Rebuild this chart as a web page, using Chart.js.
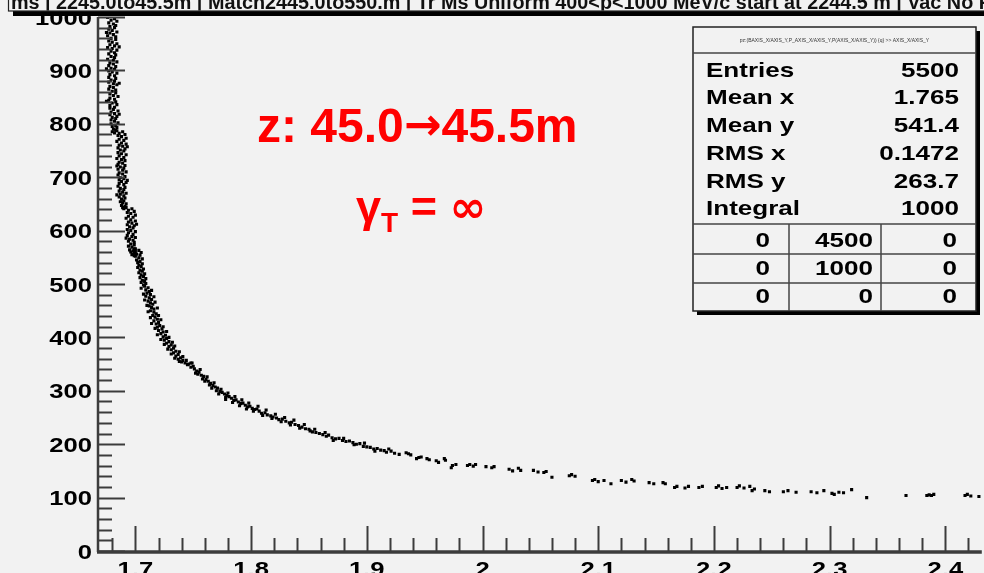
<!DOCTYPE html>
<html>
<head>
<meta charset="utf-8">
<script src="https://cdn.jsdelivr.net/npm/chart.js@4.4.0/dist/chart.umd.min.js"></script>
<style>
  html, body { margin: 0; padding: 0; background: #f2f2f2; }
  #wrap { width: 984px; height: 573px; }
  #c { filter: blur(0.45px); }
</style>
</head>
<body>
<div id="wrap"><canvas id="c" width="984" height="573"></canvas></div>
<script>
// Axis ticks
const xTickValues = [1.7, 1.8, 1.9, 2.0, 2.1, 2.2, 2.3, 2.4];
const xTickLabels = ['1.7', '1.8', '1.9', '2', '2.1', '2.2', '2.3', '2.4'];
const yTickValues = [0, 100, 200, 300, 400, 500, 600, 700, 800, 900, 1000];

// Scatter points [x, y], grouped along the curve
const steepTop = [
  [1.676,999],[1.682,997],[1.679,994],[1.684,992],[1.677,989],[1.681,987],[1.683,984],[1.678,982],[1.682,980],[1.677,977],
  [1.680,975],[1.684,972],[1.678,970],[1.681,967],[1.676,965],[1.683,963],[1.679,960],[1.683,958],[1.677,955],[1.680,953],
  [1.684,950],[1.678,948],[1.682,946],[1.676,943],[1.680,941],[1.684,938],[1.679,936],[1.682,933],[1.677,931],[1.683,929],
  [1.679,926],[1.682,924],[1.676,921],[1.681,919],[1.684,916],[1.678,914],[1.681,912],[1.677,909],[1.683,907],[1.679,904],
  [1.682,902],[1.677,899],[1.680,897],[1.684,895],[1.678,892],[1.682,890],[1.677,887],[1.683,885],[1.679,882],[1.682,880],
  [1.677,878],[1.681,875],[1.684,873],[1.678,870],[1.681,868],[1.677,865],[1.683,863],[1.680,861],[1.683,858],[1.678,856],
  [1.681,853],[1.685,851],[1.678,848],[1.682,846],[1.677,844],[1.683,841],[1.680,839],[1.684,836],[1.678,834],[1.682,831],
  [1.678,829],[1.681,827],[1.685,824],[1.679,822],[1.682,819],[1.678,817],[1.684,814],[1.680,812],[1.683,810],[1.679,807],
  [1.682,805],[1.685,802],[1.679,800],[1.683,797],[1.680,795],[1.684,793],[1.681,790],[1.683,788],[1.680,785],[1.682,783],
  [1.675,971],[1.686,944],[1.675,903],[1.686,876],[1.675,842],[1.686,818]
];
const steepUpper = [
  [1.684,787],[1.689,785],[1.686,782],[1.691,780],[1.685,778],[1.688,776],[1.692,773],[1.686,771],[1.690,769],[1.684,767],
  [1.688,764],[1.692,762],[1.686,760],[1.689,758],[1.685,755],[1.691,753],[1.687,751],[1.690,749],[1.685,746],[1.688,744],
  [1.692,742],[1.686,740],[1.690,737],[1.684,735],[1.688,733],[1.691,731],[1.686,728],[1.689,726],[1.685,724],[1.691,722],
  [1.687,719],[1.690,717],[1.685,715],[1.689,713],[1.692,710],[1.686,708],[1.689,706],[1.685,704],[1.691,701],[1.687,699],
  [1.690,697],[1.686,695],[1.688,692],[1.692,690],[1.686,688],[1.690,686],[1.685,683],[1.691,681],[1.687,679],[1.690,677],
  [1.686,674],[1.689,672],[1.692,670],[1.687,668],[1.690,665],[1.686,663],[1.691,661],[1.688,659],[1.690,656],[1.687,654],
  [1.689,652],[1.692,650],[1.688,647],[1.691,645],[1.689,643],[1.690,641],
  [1.693,757],[1.684,721],[1.693,694],[1.684,667]
];
const steepMid = [
  [1.692,643],[1.697,641],[1.694,638],[1.699,636],[1.693,634],[1.696,632],[1.700,629],[1.694,627],[1.698,625],[1.692,623],
  [1.696,620],[1.700,618],[1.694,616],[1.697,614],[1.693,611],[1.699,609],[1.695,607],[1.698,605],[1.693,602],[1.696,600],
  [1.700,598],[1.694,596],[1.698,593],[1.693,591],[1.697,589],[1.700,587],[1.695,584],[1.698,582],[1.694,580],[1.699,578],
  [1.696,575],[1.699,573],[1.694,571],[1.697,569],[1.700,566],[1.695,564],[1.698,562],[1.696,560],[1.699,557],[1.697,555],
  [1.699,553],[1.701,612],[1.692,586]
];
const steepLow = [
  [1.699,566],[1.703,563],[1.700,561],[1.705,559],[1.701,556],[1.704,554],[1.700,552],[1.703,549],[1.706,547],[1.701,545],
  [1.704,542],[1.702,540],[1.706,538],[1.703,535],[1.705,533],[1.702,531],[1.707,528],[1.704,526],[1.706,524],[1.703,521],
  [1.708,519],[1.705,517],[1.707,514],[1.704,512],[1.709,510],[1.706,507],[1.708,505],[1.705,503],[1.709,501],[1.707,498]
];
const knee = [
  [1.708,496],[1.711,493],[1.709,489],[1.712,486],[1.710,483],[1.713,480],[1.709,477],[1.712,474],[1.714,471],[1.711,468],
  [1.713,465],[1.715,462],[1.712,459],[1.714,456],[1.716,453],[1.713,450],[1.716,447],[1.718,444],[1.715,441],[1.717,438],
  [1.719,434],[1.716,431],[1.720,428],[1.718,425],[1.721,422],[1.719,419],[1.723,416],[1.720,413],[1.724,410],[1.722,407],
  [1.726,404],[1.724,401],[1.727,398],[1.725,395],[1.729,392],[1.727,389],[1.731,386],[1.729,383],[1.733,380],[1.731,377],
  [1.735,374],[1.733,371],[1.737,368],[1.735,365],[1.739,362],[1.737,359],[1.741,357],[1.740,354],[1.743,352],[1.745,349],
  [1.705,492],[1.714,488],[1.707,481],[1.716,476],[1.708,470],[1.717,466],[1.710,460],[1.719,455],[1.711,448],[1.720,441],
  [1.713,437],[1.722,433],[1.714,426],[1.724,420],[1.717,417],[1.727,411],[1.719,405],[1.729,400],[1.722,396],[1.732,391],
  [1.725,387],[1.734,384],[1.728,378],[1.738,373],[1.731,369],[1.741,364],[1.734,361],[1.744,357],[1.738,355],[1.748,352]
];
const bend = [
  [1.746,350],[1.748,344],[1.750,346],[1.751,341],[1.753,337],[1.755,335],[1.754,331],[1.757,329],[1.759,327],[1.758,322],
  [1.761,321],[1.763,318],[1.765,314],[1.764,311],[1.767,310],[1.769,307],[1.771,305],[1.770,300],[1.773,299],[1.775,297],
  [1.777,294],[1.779,291],[1.778,288],[1.781,289],[1.783,286],[1.785,282],[1.787,283],[1.789,279],[1.791,276],[1.793,277],
  [1.795,273],[1.797,270],[1.799,271],[1.801,267],[1.803,265],[1.805,266],[1.807,262],[1.809,258],[1.812,259],[1.814,255],
  [1.817,253],[1.819,251],[1.822,249],[1.824,246],[1.827,247],[1.830,243],[1.833,240],[1.835,241],[1.838,237],[1.841,235],
  [1.844,232],[1.847,229],[1.850,228],[1.853,223],[1.856,222],
  [1.749,352],[1.752,333],[1.756,340],[1.760,318],[1.762,326],[1.766,305],[1.768,315],[1.772,294],[1.774,303],[1.778,284],
  [1.780,296],[1.784,278],[1.786,289],[1.790,272],[1.792,283],[1.796,266],[1.798,277],[1.802,262],[1.806,271],[1.810,254],
  [1.813,264],[1.818,248],[1.821,256],[1.826,242],[1.829,250],[1.834,236],[1.837,245],[1.842,230],[1.846,237],[1.851,225],
  [1.855,228]
];
const tail = [
  [1.859,220],[1.862,218],[1.865,215],[1.867,217],[1.870,212],[1.873,210],[1.876,211],[1.879,207],[1.882,205],[1.885,206],
  [1.888,203],[1.891,200],[1.894,201],[1.897,196],[1.900,195],[1.903,194],[1.906,191],[1.909,192],[1.912,189],[1.915,188],
  [1.917,185],[1.921,187],[1.924,183],[1.928,181],[1.934,184],[1.936,182],[1.943,173],[1.945,175],[1.952,173],[1.954,171],
  [1.960,169],[1.967,173],[1.968,170],[1.973,156],[1.974,160],[1.987,160],[1.989,162],[1.994,162],[2.008,156],[2.010,158],
  [2.023,153],[2.031,155],[2.033,151],[2.044,151],[2.053,147],[2.055,149],[2.060,138],[2.075,141],[2.077,143],[2.095,132],
  [2.097,134],[2.105,132],[2.111,126],[2.120,132],[2.129,134],[2.131,131],[2.144,128],[2.156,128],[2.158,126],[2.166,119],
  [2.168,121],[2.178,121],[2.187,119],[2.202,119],[2.204,122],[2.211,119],[2.220,119],[2.222,122],[2.231,121],[2.233,113],
  [2.235,116],[2.244,113],[2.260,111],[2.271,110],[2.284,111],[2.295,113],[2.302,108],[2.304,106],[2.308,110],[2.319,115],
  [2.332,100],[2.366,104],[2.384,104],[2.386,105],[2.388,104],[2.417,104],[2.419,106],[2.429,102],
  [1.864,222],[1.871,207],[1.880,211],[1.889,199],[1.898,202],[1.907,187],[1.919,191],[1.938,180],[1.947,176],[1.962,166],
  [1.977,162],[1.992,159],[2.003,158],[2.026,150],[2.048,148],[2.080,140],[2.100,130],[2.124,129],[2.148,126],[2.175,118],
  [2.190,121],[2.207,117],[2.226,118],[2.248,111],[2.264,113],[2.289,109],[2.312,109],[2.390,106],[2.422,103]
];

// Statistics box contents
const statsTitle = 'pz:(BAXIS_X/AXIS_Y,P_AXIS_X/AXIS_Y,P(AXIS_X/AXIS_Y)) {q} >> AXIS_X/AXIS_Y';
const statNames = ['Entries', 'Mean x', 'Mean y', 'RMS x', 'RMS y', 'Integral'];
const statValues = ['5500', '1.765', '541.4', '0.1472', '263.7', '1000'];
const overflowGrid = [['0', '4500', '0'], ['0', '1000', '0'], ['0', '0', '0']];

const headerText = 'ms | 2245.0to45.5m | Match2445.0to550.m | Tr Ms Uniform 400<p<1000 MeV/c start at 2244.5 m | Vac No R';

const BG = '#f2f2f2';
const AXIS = '#3c3c3c';
const FONT = '"Liberation Sans", Arial, Helvetica, sans-serif';
const SYM = '"DejaVu Sans", sans-serif';

const points = [...steepTop, ...steepUpper, ...steepMid, ...steepLow, ...knee, ...bend, ...tail]
  .map(([x, y]) => ({ x, y }));

// Text drawn with ROOT's wide-looking Helvetica
function wideText(ctx, text, x, y, align, size, sx) {
  ctx.save();
  ctx.font = 'bold ' + size + 'px ' + FONT;
  ctx.translate(x, y);
  ctx.scale(sx, 1);
  ctx.textAlign = align;
  ctx.textBaseline = 'alphabetic';
  ctx.fillText(text, 0, 0);
  ctx.restore();
}

// Draws a run of [text, font, dy] pieces left to right, returns the end x
function textRun(ctx, pieces, x, y) {
  ctx.textAlign = 'left';
  ctx.textBaseline = 'alphabetic';
  pieces.forEach(([t, f, dy]) => {
    ctx.font = f;
    ctx.fillText(t, x, y + (dy || 0));
    x += ctx.measureText(t).width;
  });
  return x;
}

const rootFrame = {
  id: 'rootFrame',
  beforeDraw(chart) {
    const ctx = chart.ctx;
    ctx.save();
    ctx.fillStyle = BG;
    ctx.fillRect(0, 0, chart.width, chart.height);
    ctx.restore();
  },
  afterDraw(chart) {
    const ctx = chart.ctx;
    const a = chart.chartArea;
    const xs = chart.scales.x, ys = chart.scales.y;
    ctx.save();

    // y axis: major every 100, minor every 20, ticks point into the frame
    ctx.strokeStyle = AXIS;
    ctx.lineWidth = 2;
    for (let k = 0; k <= 50; k++) {
      const py = Math.round(ys.getPixelForValue(k * 20)) + 0.5;
      const len = k % 5 === 0 ? 27 : 14;
      ctx.beginPath();
      ctx.moveTo(a.left, py);
      ctx.lineTo(a.left + len, py);
      ctx.stroke();
    }
    // x axis: major every 0.1, minor every 0.02
    for (let k = 83; k <= 122; k++) {
      const px = Math.round(xs.getPixelForValue(k * 0.02)) + 0.5;
      if (px < a.left + 2 || px > a.right) continue;
      const len = k % 5 === 0 ? 25 : 13;
      ctx.beginPath();
      ctx.moveTo(px, a.bottom);
      ctx.lineTo(px, a.bottom - len);
      ctx.stroke();
    }

    // frame lines
    ctx.lineWidth = 2.5;
    ctx.beginPath();
    ctx.moveTo(a.left, a.top);
    ctx.lineTo(a.left, a.bottom + 1);
    ctx.stroke();
    ctx.lineWidth = 3.5;
    ctx.beginPath();
    ctx.moveTo(a.left - 1, a.bottom + 1);
    ctx.lineTo(a.right, a.bottom + 1);
    ctx.stroke();

    // tick labels
    ctx.fillStyle = '#000';
    yTickValues.forEach(v => {
      const py = ys.getPixelForValue(v);
      wideText(ctx, String(v), 92, py + 7.5, 'right', 21, 1.22);
    });
    xTickValues.forEach((v, i) => {
      const px = xs.getPixelForValue(v);
      wideText(ctx, xTickLabels[i], px, 576, 'center', 21, 1.22);
    });

    // red annotations
    ctx.fillStyle = '#ff0000';
    const big = 'bold 48px ' + FONT;
    textRun(ctx, [
      ['z: 45.0', big],
      ['\u2192', 'bold 45px ' + SYM, -2],
      ['45.5m', big]
    ], 257, 142);
    textRun(ctx, [
      ['\u03b3', 'bold 45px ' + FONT],
      ['T', 'bold 28px ' + FONT, 10],
      [' = ', 'bold 45px ' + FONT],
      ['\u221e', 'bold 44px ' + SYM]
    ], 356, 222);

    // statistics box
    const L = 693, R = 976, T = 27, B = 311;
    ctx.fillStyle = '#000';
    ctx.fillRect(L + 4, B, R - L, 4);
    ctx.fillRect(R, T + 4, 4, B - T);
    ctx.fillStyle = BG;
    ctx.fillRect(L, T, R - L, B - T);
    ctx.strokeStyle = '#222';
    ctx.lineWidth = 1.5;
    ctx.strokeRect(L, T, R - L, B - T);
    ctx.strokeStyle = '#444';
    [53, 224, 254, 283].forEach(yy => {
      ctx.beginPath(); ctx.moveTo(L, yy); ctx.lineTo(R, yy); ctx.stroke();
    });
    [789, 881].forEach(xx => {
      ctx.beginPath(); ctx.moveTo(xx, 224); ctx.lineTo(xx, B); ctx.stroke();
    });
    ctx.fillStyle = '#333';
    ctx.font = '5px ' + FONT;
    ctx.textAlign = 'center';
    ctx.fillText(statsTitle, (L + R) / 2, 42, 228);
    ctx.fillStyle = '#000';
    const rowBase = [77, 104, 132, 160, 188, 215];
    statNames.forEach((n, i) => {
      wideText(ctx, n, 706, rowBase[i], 'left', 21, 1.24);
      wideText(ctx, statValues[i], 959, rowBase[i], 'right', 21, 1.24);
    });
    const gridBase = [247, 275, 303];
    const colRight = [770, 873, 957];
    overflowGrid.forEach((row, r) => {
      row.forEach((cell, c) => {
        wideText(ctx, cell, colRight[c], gridBase[r], 'right', 21, 1.24);
      });
    });

    // title bar across the top, partly outside the canvas
    ctx.fillStyle = '#000';
    ctx.fillRect(13, 11, chart.width, 5);
    ctx.fillStyle = BG;
    ctx.fillRect(8, -10, chart.width, 21);
    ctx.strokeStyle = '#222';
    ctx.lineWidth = 1.2;
    ctx.strokeRect(8.5, -10, chart.width, 21);
    ctx.save();
    ctx.beginPath();
    ctx.rect(9, 0, chart.width, 10.5);
    ctx.clip();
    ctx.fillStyle = '#111';
    ctx.font = 'bold 20px ' + FONT;
    const hw = ctx.measureText(headerText).width;
    wideText(ctx, headerText, 11, 9, 'left', 20, 982 / hw);
    ctx.restore();

    ctx.restore();
  }
};

new Chart(document.getElementById('c'), {
  type: 'scatter',
  data: {
    datasets: [{
      data: points,
      pointStyle: 'rect',
      pointRadius: 2.2,
      pointHoverRadius: 2.2,
      backgroundColor: '#000',
      borderWidth: 0
    }]
  },
  options: {
    responsive: false,
    animation: false,
    events: [],
    layout: { padding: { top: 17, left: 0, right: 0, bottom: 0 } },
    plugins: { legend: { display: false }, tooltip: { enabled: false } },
    scales: {
      x: {
        type: 'linear',
        min: 1.6677,
        max: 2.4315,
        grid: { display: false },
        border: { display: false },
        ticks: { display: false },
        afterBuildTicks: s => { s.ticks = xTickValues.map(v => ({ value: v })); },
        afterFit: s => { s.height = 22; }
      },
      y: {
        type: 'linear',
        min: 0,
        max: 1000,
        grid: { display: false },
        border: { display: false },
        ticks: { display: false },
        afterBuildTicks: s => { s.ticks = yTickValues.map(v => ({ value: v })); },
        afterFit: s => { s.width = 98; }
      }
    }
  },
  plugins: [rootFrame]
});
</script>
</body>
</html>
